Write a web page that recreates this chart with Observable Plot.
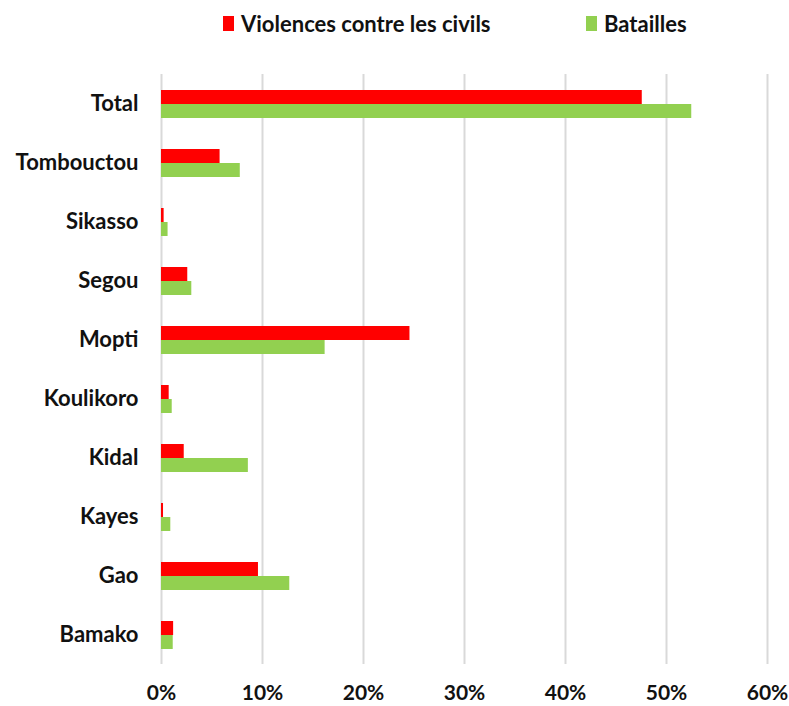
<!DOCTYPE html>
<html>
<head>
<meta charset="utf-8">
<script src="https://cdn.jsdelivr.net/npm/d3@7"></script>
<script src="https://cdn.jsdelivr.net/npm/@observablehq/plot@0.6"></script>
<style>
  html, body { margin: 0; padding: 0; background: #fff; }
  body { width: 789px; font-family: Lato, "Open Sans", sans-serif; }
  #legend { position: relative; height: 48px; font-weight: bold; font-size: 22px; color: #111; }
  .item { position: absolute; top: 10px; display: flex; align-items: center; white-space: nowrap; }
  .sw { width: 11px; height: 15px; margin-right: 7px; display: inline-block; }
  svg { display: block; }
</style>
</head>
<body>
<div id="legend"></div>
<div id="chart"></div>
<script>
const regions = ["Total", "Tombouctou", "Sikasso", "Segou", "Mopti", "Koulikoro", "Kidal", "Kayes", "Gao", "Bamako"];
const series = ["Violences contre les civils", "Batailles"];
const colors = ["#ff0000", "#92d050"];
const violences = [0.476, 0.058, 0.0026, 0.026, 0.246, 0.0076, 0.0225, 0.002, 0.096, 0.012];
const batailles = [0.525, 0.078, 0.0065, 0.030, 0.162, 0.0106, 0.086, 0.0092, 0.127, 0.0116];
const xTicks = [0, 0.1, 0.2, 0.3, 0.4, 0.5, 0.6];

const data = [];
regions.forEach((r, i) => {
  data.push({region: r, series: series[0], value: violences[i]});
  data.push({region: r, series: series[1], value: batailles[i]});
});

// legend
const legend = document.getElementById("legend");
const legendX = [223, 586];
series.forEach((s, i) => {
  const it = document.createElement("div");
  it.className = "item";
  it.style.left = legendX[i] + "px";
  it.innerHTML = `<span class="sw" style="background:${colors[i]}"></span><span>${s}</span>`;
  legend.appendChild(it);
});

const chart = Plot.plot({
  width: 789,
  height: 658,
  marginLeft: 161,
  marginRight: 22,
  marginTop: 23,
  marginBottom: 39,
  style: {fontFamily: "Lato, 'Open Sans', sans-serif", fontSize: "22px", fontWeight: "bold", color: "#111"},
  x: {domain: [0, 0.6], ticks: xTicks, tickFormat: d3.format(".0%"), label: null},
  fy: {domain: regions, padding: 0, label: null},
  y: {domain: series, paddingInner: 0, paddingOuter: 0.97, axis: null},
  color: {domain: series, range: colors},
  marks: [
    Plot.ruleX(xTicks, {x: d => d, stroke: "#d9d9d9", strokeWidth: 2}),
    Plot.barX(data, {fy: "region", y: "series", x: "value", fill: "series"}),
    Plot.axisX({ticks: xTicks, tickFormat: d3.format(".0%"), tickSize: 0, tickPadding: 21, label: null, fontSize: 21}),
    Plot.axisFy({anchor: "left", tickSize: 0, tickPadding: 23, label: null, fontSize: 22})
  ]
});
document.getElementById("chart").appendChild(chart);
</script>
</body>
</html>
